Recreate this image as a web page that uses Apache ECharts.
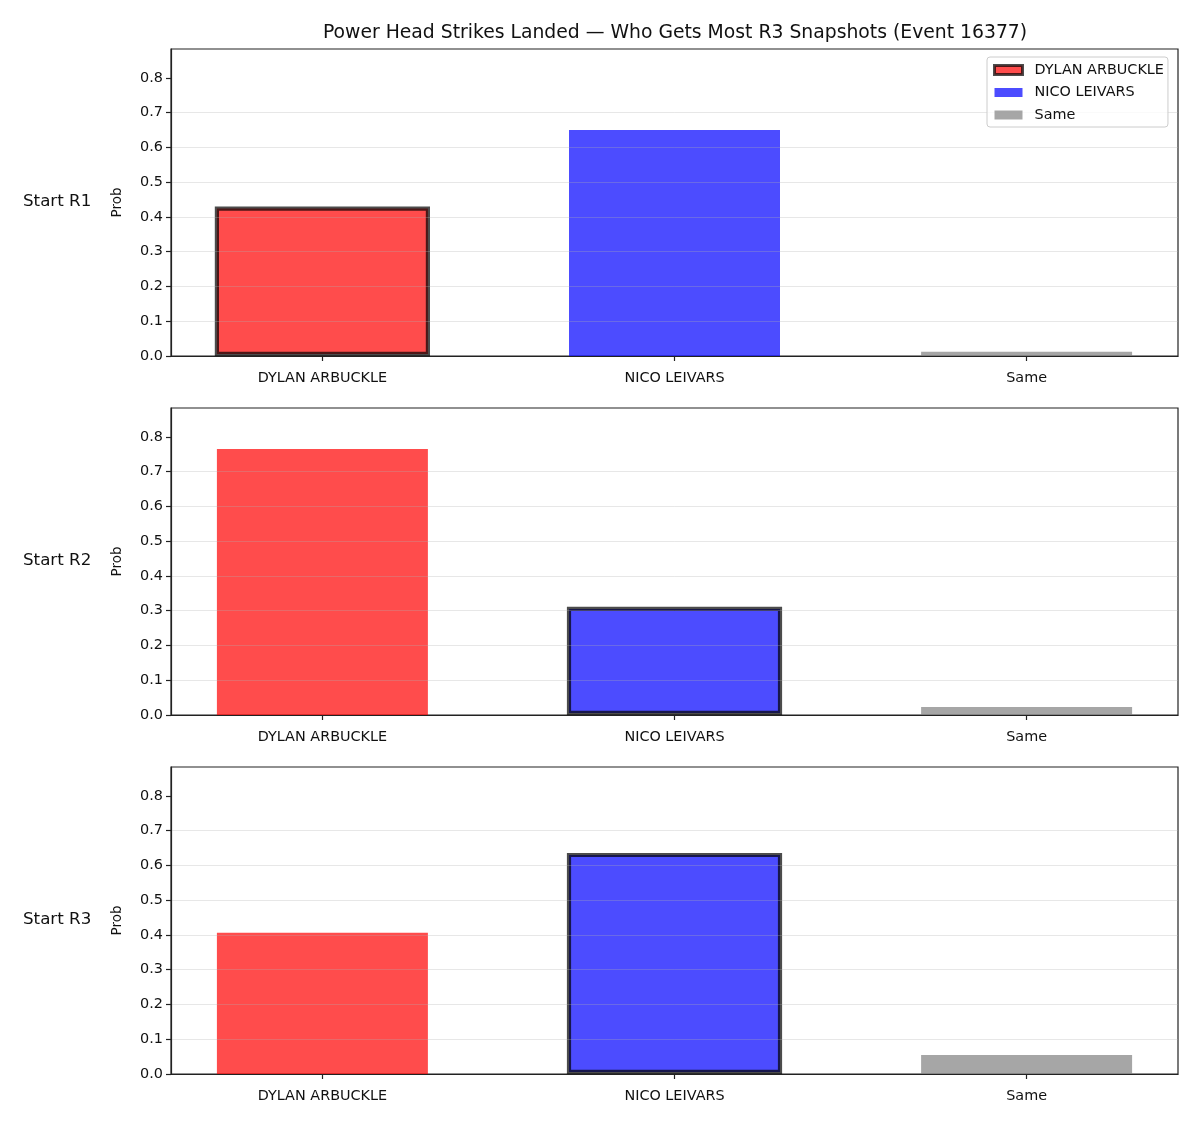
<!DOCTYPE html>
<html>
<head>
<meta charset="utf-8">
<title>Power Head Strikes Landed</title>
<script src="https://cdn.jsdelivr.net/npm/echarts@6/dist/echarts.min.js"></script>
<style>
    html, body { margin: 0; padding: 0; background: #fff; }
    #chart { width: 1200px; height: 1125px; }
</style>
</head>
<body>
<div id="chart"></div>
<script>
    // 数据
    var categories = ['DYLAN ARBUCKLE', 'NICO LEIVARS', 'Same'];
    var rowLabels = ['Start R1', 'Start R2', 'Start R3'];
    var probR1 = [0.430, 0.650, 0.012];
    var probR2 = [0.765, 0.311, 0.023];
    var probR3 = [0.406, 0.636, 0.055];
    var highlighted = [0, 1, 1]; // 每行加边框的类别
    var yTicks = [0, 0.1, 0.2, 0.3, 0.4, 0.5, 0.6, 0.7, 0.8];

    var rows = [probR1, probR2, probR3];
    var colors = ['rgba(255,0,0,0.7)', 'rgba(0,0,255,0.7)', 'rgba(128,128,128,0.7)'];
    var edge = 'rgba(0,0,0,0.7)';
    var font = 'DejaVu Sans';
    var gridTops = [49, 408, 767];
    var barW = 211, edgeW = 4.2;

    var myEcharts = echarts.init(document.getElementById('chart'), null, { renderer: 'canvas' });

    var grids = [], xAxes = [], yAxes = [], series = [], graphics = [];

    rows.forEach(function(vals, r) {
        grids.push({
            left: 171,
            top: gridTops[r],
            width: 1007,
            height: 307,
            show: true,
            borderColor: '#222',
            borderWidth: 1.2,
            backgroundColor: 'transparent'
        });
        // 可见的x轴
        xAxes.push({
            gridIndex: r,
            type: 'value',
            min: -0.43,
            max: 2.43,
            z: 3,
            axisLine: { show: true, onZero: false, lineStyle: { color: '#222', width: 1.2 } },
            axisTick: { show: true, length: 5, customValues: [0, 1, 2], lineStyle: { color: '#222', width: 1.2 } },
            axisLabel: {
                customValues: [0, 1, 2],
                margin: 15,
                color: '#111',
                fontFamily: font,
                fontSize: 14.4,
                formatter: function(v) {
                    return categories[Math.round(v)];
                }
            },
            splitLine: { show: false }
        });
        // 隐藏的x轴，给加边框的柱子单独布局
        xAxes.push({
            gridIndex: r,
            type: 'value',
            min: -0.43,
            max: 2.43,
            show: false
        });
        yAxes.push({
            gridIndex: r,
            type: 'value',
            min: 0,
            max: 0.883,
            interval: 0.1,
            z: 3,
            name: 'Prob',
            nameLocation: 'middle',
            nameGap: 47,
            nameRotate: 90,
            nameTextStyle: { fontFamily: font, fontSize: 13.5, color: '#111' },
            axisLine: { show: true, onZero: false, lineStyle: { color: '#222', width: 1.2 } },
            axisTick: { show: true, length: 5, customValues: yTicks, lineStyle: { color: '#222', width: 1.2 } },
            axisLabel: {
                customValues: yTicks,
                margin: 8,
                color: '#111',
                fontFamily: font,
                fontSize: 14.4,
                formatter: function(v) {
                    return v.toFixed(1);
                }
            },
            splitLine: {
                show: true,
                showMinLine: false,
                showMaxLine: false,
                lineStyle: { color: 'rgba(176,176,176,0.3)', width: 1 }
            }
        });

        categories.forEach(function(name, c) {
            var style = { color: colors[c] };
            var w = barW, xi = r * 2;
            if (highlighted[r] === c) {
                // echarts 把边框画在柱子内侧，这里加宽让边框压在边上
                style.borderColor = edge;
                style.borderWidth = edgeW;
                w = barW + edgeW;
                xi = r * 2 + 1;
            }
            series.push({
                name: name,
                type: 'bar',
                xAxisIndex: xi,
                yAxisIndex: r,
                barWidth: w,
                barGap: '-100%',
                itemStyle: style,
                emphasis: { disabled: true },
                data: [[c, vals[c]]]
            });
        });

        graphics.push({
            type: 'text',
            left: 23,
            top: gridTops[r] + 153.5 - 9,
            style: {
                text: rowLabels[r],
                font: '16.7px "DejaVu Sans"',
                fill: '#111'
            }
        });
    });

    var option = {
        animation: false,
        title: {
            text: 'Power Head Strikes Landed \u2014 Who Gets Most R3 Snapshots (Event 16377)',
            left: 670,
            top: 19,
            textAlign: 'center',
            textStyle: { fontFamily: font, fontSize: 18.8, fontWeight: 'normal', color: '#111' }
        },
        legend: {
            orient: 'vertical',
            left: 987,
            top: 57,
            width: 170,
            padding: [6, 4, 5, 6],
            itemWidth: 28,
            itemHeight: 9,
            itemGap: 8.5,
            icon: 'rect',
            backgroundColor: 'rgba(255,255,255,0.8)',
            borderColor: '#ccc',
            borderWidth: 1,
            borderRadius: 3,
            selectedMode: false,
            textStyle: { fontFamily: font, fontSize: 14.4, color: '#111', padding: [0, 0, 0, 7] },
            data: [
                { name: categories[0], itemStyle: { color: colors[0], borderColor: edge, borderWidth: 3 } },
                { name: categories[1] },
                { name: categories[2] }
            ]
        },
        grid: grids,
        xAxis: xAxes,
        yAxis: yAxes,
        series: series,
        graphic: graphics
    };

    myEcharts.setOption(option);
</script>
</body>
</html>
